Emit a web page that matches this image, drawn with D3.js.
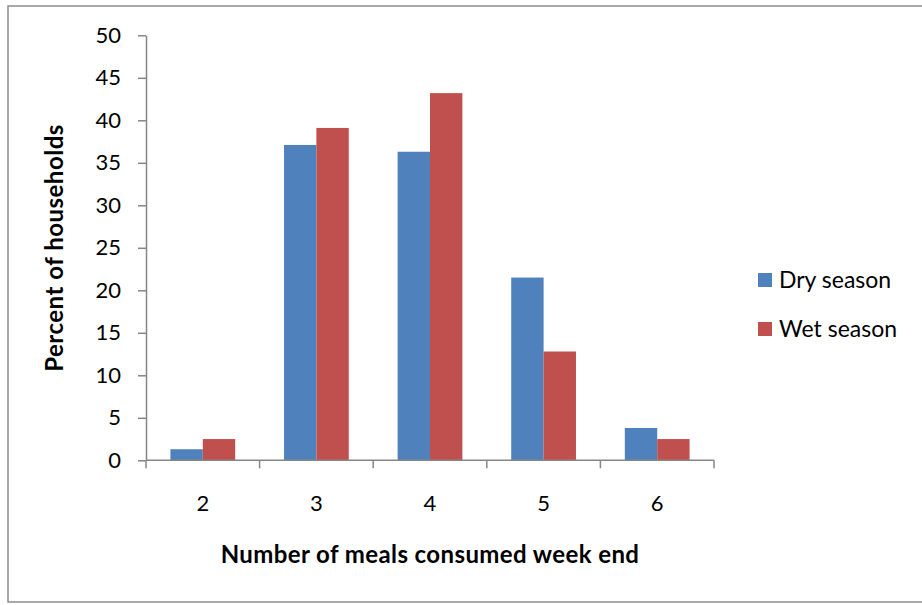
<!DOCTYPE html>
<html><head><meta charset="utf-8">
<script src="https://cdn.jsdelivr.net/npm/d3@7"></script>
<style>body{margin:0;background:#fff}svg{display:block}text{font-family:Lato,"Open Sans",sans-serif;fill:#000}</style>
</head><body>
<script>
const categories = ["2","3","4","5","6"];
const seriesNames = ["Dry season","Wet season"];
const dryValues = [1.3,37.1,36.3,21.5,3.8];
const wetValues = [2.5,39.1,43.2,12.8,2.5];
const yTicks = [0,5,10,15,20,25,30,35,40,45,50];
const colors = ["#4F81BD","#C0504D"];

(function(){
const W=922,H=605;
const svg=d3.select("body").append("svg").attr("width",W).attr("height",H);
svg.append("rect").attr("x",8).attr("y",6).attr("width",W).attr("height",596)
  .attr("fill","#fff").attr("stroke","#8c8c8c").attr("stroke-width",1.5);

const pl=146,pr=714,pt=35.3,pb=460.3;
const x=d3.scaleBand().domain(categories).range([pl,pr]).paddingInner(0.43).paddingOuter(0.215);
const x1=d3.scaleBand().domain(seriesNames).range([0,x.bandwidth()]);
const y=d3.scaleLinear().domain([0,50]).range([pb,pt]);

const data=categories.map((c,i)=>({c,vals:[dryValues[i],wetValues[i]]}));
const g=svg.append("g");
g.selectAll("g.cat").data(data).join("g").attr("class","cat")
 .attr("transform",d=>`translate(${x(d.c)},0)`)
 .selectAll("rect").data(d=>d.vals.map((v,j)=>({v,j}))).join("rect")
 .attr("x",d=>x1(seriesNames[d.j])).attr("width",x1.bandwidth())
 .attr("y",d=>y(d.v)).attr("height",d=>pb-y(d.v))
 .attr("fill",d=>colors[d.j]);

const ya=svg.append("g").attr("transform",`translate(${pl},0)`)
 .call(d3.axisLeft(y).tickValues(yTicks).tickSize(8).tickPadding(17).tickSizeOuter(0));
ya.select(".domain").attr("stroke","#868686").attr("stroke-width",1.5);
ya.selectAll(".tick line").attr("stroke","#868686").attr("stroke-width",1.5);
ya.selectAll(".tick text").attr("font-size",22).attr("font-family","Lato,'Open Sans',sans-serif");

const xa=svg.append("g").attr("transform",`translate(0,${pb})`);
xa.append("line").attr("x1",pl).attr("x2",pr).attr("stroke","#868686").attr("stroke-width",1.5);
const step=x.step();
const bounds=categories.map((c,i)=>x(c)-x.paddingInner()*step/2).concat([pr]);
bounds[0]=pl;
xa.selectAll("line.t").data(bounds).join("line").attr("class","t")
 .attr("x1",d=>d).attr("x2",d=>d).attr("y1",0).attr("y2",8).attr("stroke","#868686").attr("stroke-width",1.5);
xa.selectAll("text").data(categories).join("text")
 .attr("x",d=>x(d)+x.bandwidth()/2).attr("y",51).attr("text-anchor","middle").attr("font-size",22).text(d=>d);

svg.append("text").attr("x",430).attr("y",563).attr("text-anchor","middle")
 .attr("font-size",24).attr("font-weight","bold").attr("letter-spacing",0.4).text("Number of meals consumed week end");
svg.append("text").attr("transform","translate(63,248) rotate(-90)").attr("text-anchor","middle")
 .attr("font-size",24).attr("font-weight","bold").attr("letter-spacing",0.5).text("Percent of households");

const lg=svg.append("g");
seriesNames.forEach((s,i)=>{
  const yy=273+i*49;
  lg.append("rect").attr("x",758).attr("y",yy).attr("width",14).attr("height",14).attr("fill",colors[i]);
  lg.append("text").attr("x",779).attr("y",yy+15).attr("font-size",23).text(s);
});
})();
</script>
</body></html>
